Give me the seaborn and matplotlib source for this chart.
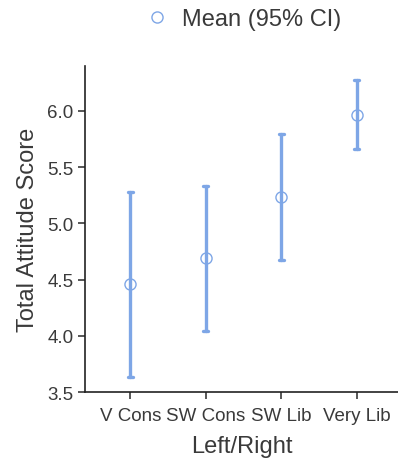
import matplotlib
matplotlib.use("Agg")
import matplotlib.pyplot as plt
from matplotlib.lines import Line2D
import seaborn as sns
import pandas as pd

categories = ["V Cons", "SW Cons", "SW Lib", "Very Lib"]
means = [4.46, 4.69, 5.23, 5.96]
ci_low = [3.63, 4.04, 4.67, 5.66]
ci_high = [5.28, 5.33, 5.79, 6.27]
yticks = [3.5, 4.0, 4.5, 5.0, 5.5, 6.0]

sns.set_theme(style="ticks")
plt.rcParams["font.family"] = ["Liberation Sans", "DejaVu Sans"]
txt = "#3a3a3a"
plt.rcParams["text.color"] = txt
plt.rcParams["axes.labelcolor"] = txt
plt.rcParams["xtick.color"] = txt
plt.rcParams["ytick.color"] = txt

blue = "#7EA6E6"

# long-form: low, mean, high per category; median = mean, 100% interval = CI
rows = []
for c, lo, m, hi in zip(categories, ci_low, means, ci_high):
    for v in (lo, m, hi):
        rows.append({"Left/Right": c, "score": v})
df = pd.DataFrame(rows)

fig = plt.figure(figsize=(3.98, 4.64), dpi=100)
ax = fig.add_axes([0.214, 0.153, 0.786, 0.703])

sns.pointplot(data=df, x="Left/Right", y="score", order=categories,
              estimator="median", errorbar=("pi", 100), color=blue,
              linestyle="none", marker="o", markersize=8,
              markerfacecolor="white", markeredgecolor=blue, markeredgewidth=1.0,
              capsize=0.07, err_kws={"linewidth": 2.4}, ax=ax)

ax.set_ylim(3.5, 6.4)
ax.set_xlim(-0.6, 3.55)
ax.set_yticks(yticks)
ax.set_yticklabels([f"{t:.1f}" for t in yticks])
ax.set_xlabel("Left/Right", fontsize=17, labelpad=8)
ax.set_ylabel("Total Attitude Score", fontsize=17, labelpad=6)
ax.tick_params(axis="both", labelsize=13.5, length=5, width=1.2, colors=txt)
ax.tick_params(axis="x", pad=6)
for s in ["left", "bottom"]:
    ax.spines[s].set_linewidth(1.2)
    ax.spines[s].set_color("#222222")
sns.despine(ax=ax)

handle = Line2D([], [], linestyle="none", marker="o", markersize=8,
                markerfacecolor="white", markeredgecolor=blue, markeredgewidth=1.0)
fig.legend([handle], ["Mean (95% CI)"], loc="center", bbox_to_anchor=(0.609, 0.957),
           frameon=False, fontsize=17, handlelength=1.2, handletextpad=0.46)

fig.savefig("out.png", dpi=100)
